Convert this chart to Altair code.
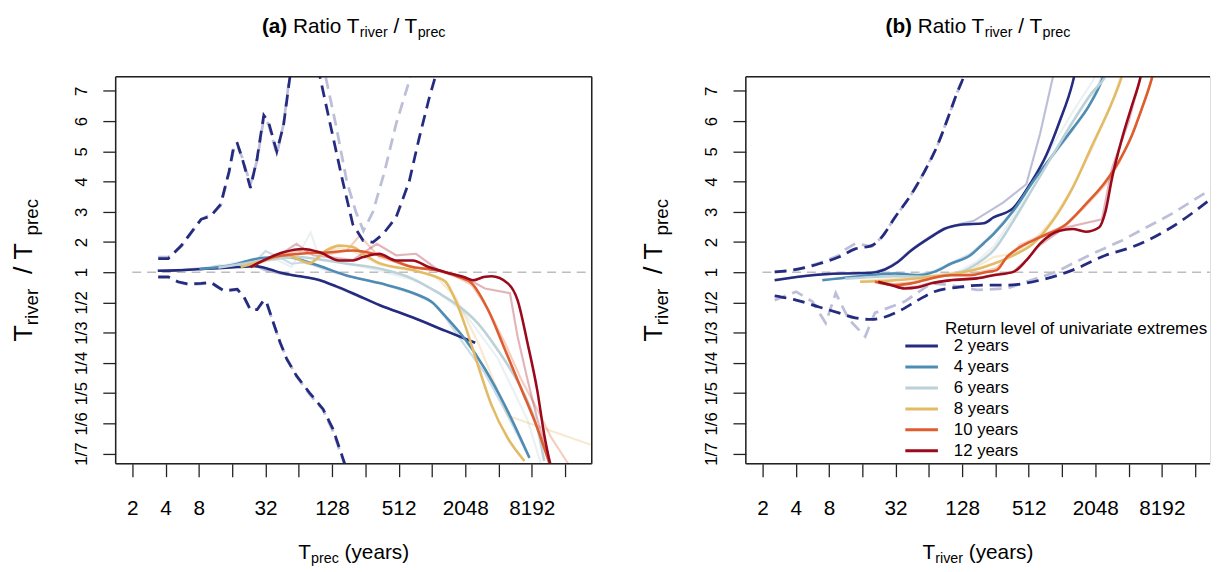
import altair as alt
import pandas as pd

FONT = "Liberation Sans"
SERIES = ["2 years", "4 years", "6 years", "8 years", "10 years", "12 years"]
COLORS = ["#252C80", "#4E8CB3", "#BCD2D8", "#E3BB66", "#DE5C2E", "#9B0A1C"]
NAVY = "#252C80"

X_TICKS = [2, 4, 8, 16, 32, 64, 128, 256, 512, 1024, 2048, 4096, 8192, 16384]
Y_TICKS = [-6, -5, -4, -3, -2, -1, 0, 1, 2, 3, 4, 5, 6]
REF_T = [2, 30000]
REF_R = [1, 1]

# ---------------- panel (a): smooth curves (x = T_prec, y = ratio) ----------------
a2_T = [3.4, 5, 7.8, 12, 18, 25, 30, 36, 44, 66, 99, 140, 197, 342, 690, 1360, 2520]
a2_R = [1.05, 1.06, 1.10, 1.13, 1.17, 1.20, 1.16, 1.08, 0.98, 0.88, 0.79, 0.68, 0.59, 0.48, 0.40, 0.34, 0.30]
a4_T = [8.1, 15.6, 31, 50, 86, 170, 342, 690, 1040, 1360, 2050, 3090, 4670, 7800]
a4_R = [1.10, 1.23, 1.48, 1.50, 1.28, 0.91, 0.735, 0.593, 0.497, 0.406, 0.31, 0.238, 0.185, 0.14]
a6_T = [12, 20, 40, 64, 100, 174, 342, 687, 1180, 1670, 2680, 4030, 5690, 7480, 9220, 10600]
a6_R = [1.15, 1.28, 1.45, 1.50, 1.42, 1.28, 1.12, 0.82, 0.59, 0.49, 0.37, 0.28, 0.226, 0.19, 0.162, 0.138]
a8_T = [19.1, 31, 50, 80, 113, 150, 197, 244, 342, 687, 1105, 1360, 1670, 2048, 2680, 3550, 4970, 7030]
a8_R = [1.17, 1.39, 1.56, 1.30, 1.72, 1.88, 1.83, 1.61, 1.30, 1.07, 0.87, 0.76, 0.52, 0.36, 0.244, 0.185, 0.154, 0.138]
a10_T = [23.4, 37.8, 65.7, 122, 197, 342, 687, 1105, 1770, 2350, 3290, 4670, 6570, 9220, 12200, 15000]
a10_R = [1.17, 1.50, 1.61, 1.66, 1.72, 1.56, 1.17, 1.07, 0.87, 0.73, 0.446, 0.282, 0.206, 0.162, 0.134, 0.12]
a12_T = [23.4, 35.5, 46.6, 70, 99, 149, 197, 244, 342, 485, 687, 955, 1360, 2048, 2400, 3090, 3540, 4970, 6090, 7480, 9220, 10600, 12200, 14000]
a12_R = [1.17, 1.50, 1.66, 1.77, 1.66, 1.39, 1.39, 1.50, 1.61, 1.39, 1.39, 1.17, 1.0, 0.85, 0.79, 0.87, 0.88, 0.73, 0.52, 0.30, 0.202, 0.157, 0.134, 0.12]

# panel (a): raw (faint) curves
ar2_T = [3.4, 5, 7.8, 12, 16, 20, 25, 32, 44, 66, 99, 197, 342, 690, 1360, 2520]
ar2_R = [1.05, 1.07, 1.12, 1.14, 1.22, 1.16, 1.24, 1.06, 0.95, 0.88, 0.80, 0.58, 0.48, 0.40, 0.34, 0.30]
ar4_T = [8.1, 12, 16, 20, 25, 32, 45, 55, 70, 86, 128, 170, 256, 342, 512, 690, 1040, 1360, 2050, 3090, 4670, 7800]
ar4_R = [1.10, 1.22, 1.20, 1.33, 1.30, 1.70, 1.45, 1.28, 1.32, 1.24, 1.02, 0.90, 0.80, 0.74, 0.64, 0.59, 0.50, 0.40, 0.29, 0.23, 0.18, 0.14]
ar6_T = [12, 16, 25, 40, 55, 82, 100, 174, 342, 687, 1180, 2048, 4030, 7480, 10600]
ar6_R = [1.15, 1.30, 1.40, 1.42, 1.17, 2.32, 1.40, 1.30, 1.05, 0.80, 0.60, 0.42, 0.26, 0.17, 0.13]
ar8_T = [19, 31, 50, 80, 113, 150, 197, 342, 687, 1105, 1670, 2680, 4970, 28000]
ar8_R = [1.17, 1.35, 1.50, 1.30, 1.70, 1.80, 1.70, 1.25, 1.05, 0.88, 0.55, 0.30, 0.174, 0.149]
ar10_T = [23.4, 40, 65, 122, 174, 228, 342, 687, 1105, 1770, 2350, 3290, 4670, 6570, 9220, 12200, 18400]
ar10_R = [1.17, 1.55, 1.70, 1.60, 1.72, 2.21, 1.50, 1.15, 1.07, 0.85, 0.70, 0.45, 0.30, 0.22, 0.18, 0.155, 0.134]
ar12_T = [23.4, 35, 46, 61, 86, 120, 197, 325, 485, 735, 1170, 2048, 3090, 5200, 6090, 7480, 9220, 13000]
ar12_R = [1.17, 1.50, 1.65, 1.94, 1.56, 1.50, 1.40, 1.94, 1.56, 1.61, 1.07, 0.85, 0.65, 0.59, 0.32, 0.22, 0.17, 0.13]

# panel (a): dashed bounds
au_T = [3.43, 4.23, 5.55, 8.38, 10.3, 12.6, 15.0, 16.6, 17.8, 19.7, 23.4, 26.9, 30.9, 34.1, 40.5, 46.6, 53.4, 62, 75, 90, 99, 122, 160, 197, 244, 300, 370, 485, 638, 783, 962, 1105, 1300]
au_R = [1.45, 1.45, 1.88, 2.75, 2.86, 3.25, 4.33, 5.2, 5.26, 4.77, 3.79, 4.77, 6.19, 5.97, 4.99, 5.86, 7.5, 9.5, 10.5, 9.0, 7.5, 5.97, 4.0, 2.59, 2.05, 1.99, 2.26, 2.81, 4.0, 5.42, 6.73, 7.5, 8.6]
al_T = [3.43, 4.23, 5.18, 6.37, 8.38, 10.3, 11.8, 13.5, 17.8, 20.4, 23.4, 26.9, 30.9, 32.9, 37.8, 43.5, 49.9, 61, 80.5, 106, 130, 160, 171, 185]
al_R = [0.867, 0.867, 0.76, 0.718, 0.73, 0.748, 0.675, 0.62, 0.64, 0.553, 0.446, 0.446, 0.522, 0.495, 0.373, 0.30, 0.258, 0.226, 0.20, 0.181, 0.162, 0.14, 0.134, 0.125]
afu_T = [3.43, 4.23, 5.55, 8.38, 10.3, 12.6, 15.0, 16.6, 17.8, 19.7, 23.4, 26.9, 30.9, 34.1, 40.5, 46.6, 53.4, 62, 75, 90, 110, 140, 174, 210, 246, 300, 380, 485, 635, 750]
afu_R = [1.5, 1.5, 1.85, 2.75, 2.9, 3.2, 4.3, 5.1, 5.2, 4.8, 3.9, 4.7, 6.1, 5.9, 4.9, 5.9, 7.6, 9.5, 10.5, 9.5, 7.6, 5.8, 4.0, 3.0, 2.37, 3.0, 4.3, 5.9, 7.3, 8.5]
afl_T = [3.43, 4.23, 5.18, 6.37, 8.38, 10.3, 11.8, 13.5, 17.8, 20.4, 23.4, 26.9, 30.9, 32.9, 37.8, 43.5, 49.9, 61, 80.5, 106, 130, 160, 171, 185]
afl_R = [0.85, 0.85, 0.75, 0.71, 0.72, 0.74, 0.67, 0.61, 0.63, 0.55, 0.44, 0.45, 0.51, 0.49, 0.37, 0.30, 0.26, 0.225, 0.198, 0.18, 0.16, 0.139, 0.133, 0.124]

# ---------------- panel (b): smooth curves (x = T_river, y = ratio) ----------------
b2_T = [2.58, 5.66, 11.2, 19.4, 25.6, 33.6, 44.3, 67, 88, 124, 201, 246, 372, 523, 739, 970, 1277, 1323, 1500]
b2_R = [0.79, 0.91, 0.96, 0.98, 1.09, 1.34, 1.72, 2.17, 2.43, 2.57, 2.62, 2.81, 3.13, 3.9, 4.88, 5.97, 7.27, 7.5, 8.5]
b4_T = [6.96, 13.8, 31.5, 51, 71.5, 101, 152, 201, 246, 372, 560, 845, 1277, 1800, 2370, 2700]
b4_R = [0.79, 0.87, 0.96, 0.91, 1.01, 1.28, 1.56, 1.96, 2.26, 3.03, 4.0, 4.88, 5.75, 6.51, 7.38, 8.0]
b6_T = [11.2, 31.5, 67, 115, 174, 246, 372, 560, 845, 1277, 1920, 2540, 2900]
b6_R = [0.82, 0.88, 0.87, 0.96, 1.28, 1.72, 2.70, 3.79, 4.88, 5.97, 6.95, 7.49, 8.0]
b8_T = [15.3, 31.5, 67, 115, 163, 246, 372, 560, 845, 1277, 1920, 2900, 3570, 4000]
b8_R = [0.76, 0.79, 0.87, 0.96, 1.07, 1.28, 1.56, 1.94, 2.70, 3.79, 5.2, 6.62, 7.5, 8.2]
b10_T = [20.8, 31.5, 44.3, 67, 101, 152, 214, 263, 324, 427, 645, 1115, 1680, 2540, 3340, 4390, 5380, 6610, 7500]
b10_R = [0.76, 0.70, 0.73, 0.83, 0.91, 0.91, 1.01, 1.07, 1.50, 1.83, 2.15, 2.59, 3.25, 4.0, 4.66, 5.53, 6.40, 7.38, 8.2]
b12_T = [22.3, 29.4, 38.6, 51, 67, 101, 175, 246, 372, 487, 645, 970, 1277, 1680, 2210, 2540, 2900, 3570, 4390, 5190, 5800]
b12_R = [0.76, 0.70, 0.65, 0.667, 0.73, 0.79, 0.83, 0.91, 1.01, 1.39, 1.94, 2.37, 2.43, 2.34, 2.48, 3.03, 4.11, 5.42, 6.51, 7.38, 8.2]

# panel (b): raw (faint) curves
br2_T = [2.58, 5.66, 11.2, 19.4, 25.6, 33.6, 44.3, 67, 88, 124, 163, 300, 487, 650, 845, 950]
br2_R = [0.80, 0.92, 0.97, 0.99, 1.10, 1.36, 1.75, 2.20, 2.45, 2.60, 2.70, 3.30, 3.91, 5.6, 7.44, 8.3]
br4_T = [6.96, 13.8, 31.5, 51, 71.5, 101, 152, 201, 246, 372, 560, 845, 1277, 1800, 2370]
br4_R = [0.80, 0.88, 0.98, 0.93, 1.03, 1.30, 1.60, 2.0, 2.3, 3.05, 4.0, 4.85, 5.7, 6.5, 7.5]
br6_T = [11.2, 31.5, 67, 115, 174, 246, 372, 560, 845, 1277, 1920, 2400]
br6_R = [0.84, 0.90, 0.88, 1.0, 1.35, 1.85, 2.85, 4.0, 5.2, 6.3, 7.3, 8.0]
br8_T = [15.3, 31.5, 67, 115, 163, 246, 372, 560, 845, 1277, 1920, 2900, 3570]
br8_R = [0.78, 0.82, 0.90, 1.0, 1.12, 1.5, 1.62, 2.0, 2.75, 3.8, 5.1, 6.6, 7.6]
br10_T = [20.8, 31.5, 44.3, 67, 101, 152, 214, 263, 324, 427, 645, 1115, 1680, 2540, 3340, 4390, 5380, 6610, 7500]
br10_R = [0.77, 0.72, 0.75, 0.85, 0.92, 0.95, 1.05, 1.15, 1.45, 1.90, 2.20, 2.55, 3.2, 3.9, 4.6, 5.5, 6.4, 7.4, 8.2]
br12_T = [22.3, 29.4, 38.6, 51, 67, 101, 175, 246, 372, 487, 645, 970, 1115, 2350, 2900, 4096, 5190, 5800]
br12_R = [0.77, 0.71, 0.66, 0.68, 0.74, 0.80, 0.84, 0.92, 1.02, 1.40, 1.90, 2.35, 2.48, 2.75, 4.44, 5.97, 7.38, 8.2]

# panel (b): dashed bounds
bu_T = [2.58, 4.03, 6.5, 9.8, 13.8, 19.4, 23.9, 31.5, 44.3, 58.4, 76.6, 94.6, 115.6, 133, 150]
bu_R = [1.01, 1.09, 1.28, 1.5, 1.77, 1.88, 2.15, 2.81, 3.57, 4.33, 5.2, 6.08, 6.95, 7.5, 8.2]
bl_T = [2.58, 4.03, 6.5, 9.8, 13.8, 19.4, 25.6, 36.3, 51, 71.5, 115.6, 201, 324, 645, 1277, 2540, 4390, 9940, 22700]
bl_R = [0.56, 0.52, 0.465, 0.426, 0.398, 0.39, 0.403, 0.446, 0.52, 0.608, 0.667, 0.70, 0.70, 0.79, 1.07, 1.56, 1.83, 2.48, 3.42]
bfu_T = [2.58, 4.03, 6.5, 9.8, 11.2, 13.8, 19.4, 23.9, 31.5, 44.3, 58.4, 76.6, 94.6, 115.6, 133, 150]
bfu_R = [1.0, 1.08, 1.3, 1.55, 1.75, 1.95, 1.85, 2.15, 2.8, 3.57, 4.33, 5.2, 6.08, 6.95, 7.5, 8.2]
bfl_T = [2.58, 4.03, 5.66, 7.46, 9.2, 12.1, 17, 20.8, 38.6, 67, 101, 175, 324, 905, 1800, 3570, 9940, 22700]
bfl_R = [0.52, 0.608, 0.507, 0.373, 0.59, 0.39, 0.32, 0.426, 0.507, 0.73, 0.70, 0.63, 0.65, 1.01, 1.56, 2.05, 2.92, 3.74]

# ---------------- layout constants ----------------
W_A, W_B, H = 482, 470, 392
XDOM_A = [2 ** 0.5, 2 ** 14.8]
XDOM_B = [2 ** 0.5, 2 ** (0.5 + 470 / 33.7)]
YDOM = [-6.34, 6.47]
ONE = pd.DataFrame({"k": [0]})

REG = {" ": 278, "(": 333, ")": 333, "/": 278, "a": 556, "c": 500, "e": 556, "i": 222,
       "o": 556, "p": 556, "r": 333, "s": 500, "t": 278, "v": 500, "y": 500, "R": 722, "T": 611}
BOLD = {"(": 333, ")": 333, "a": 556, "b": 611}


def tw(s, size, bold=False):
    d = BOLD if bold else REG
    return sum(d.get(c, 556) for c in s) * size / 1000.0


def to_t(r):
    return r - 1 if r >= 1 else 1 - 1.0 / r


def frame(T, R, name="s"):
    return pd.DataFrame({"T": T, "t": [to_t(v) for v in R], "series": name, "i": list(range(len(T)))})


def xenc(dom):
    return alt.X("T:Q", scale=alt.Scale(type="log", base=2, domain=dom, nice=False),
                 axis=alt.Axis(values=X_TICKS,
                               labelExpr="indexof([2,4,8,32,128,512,2048,8192], datum.value) >= 0 ? format(datum.value, 'd') : ''",
                               domain=False, grid=False, tickSize=13, tickWidth=1.3, tickColor="#222",
                               labelFont=FONT, labelFontSize=21, labelColor="black", labelPadding=21,
                               labelFlush=False, labelOverlap=False, title=None))


YENC = alt.Y("t:Q", scale=alt.Scale(domain=YDOM, nice=False, zero=False),
             axis=alt.Axis(values=Y_TICKS,
                           labelExpr="datum.value >= 0 ? format(datum.value + 1, 'd') : '1/' + format(1 - datum.value, 'd')",
                           domain=False, grid=False, tickSize=13, tickWidth=1.3, tickColor="#222",
                           labelFont=FONT, labelFontSize=17, labelColor="black", labelPadding=13,
                           labelAngle=270, labelAlign="center", labelBaseline="bottom",
                           labelOverlap=False, title=None))


def line(data, dom, color, width, opacity=1.0, dash=None, interp="linear"):
    kw = dict(color=color, strokeWidth=width, opacity=opacity, clip=True, interpolate=interp)
    if dash:
        kw["strokeDash"] = dash
    return alt.Chart(data).mark_line(**kw).encode(x=xenc(dom), y=YENC, order="i:Q")


def txt(s, x, y, size, bold=False, angle=0):
    return alt.Chart(ONE).mark_text(text=s, align="left", baseline="alphabetic", font=FONT,
                                    fontSize=size, fontWeight="bold" if bold else "normal",
                                    color="black", angle=angle).encode(x=alt.value(x), y=alt.value(y))


def hrule(x1, x2, y, color="#222", w=1.5, opacity=1.0):
    return alt.Chart(ONE).mark_rule(color=color, strokeWidth=w, opacity=opacity).encode(
        x=alt.value(x1), x2=alt.value(x2), y=alt.value(y))


def vrule(x, y1, y2, color="#222", w=1.5):
    return alt.Chart(ONE).mark_rule(color=color, strokeWidth=w).encode(
        x=alt.value(x), y=alt.value(y1), y2=alt.value(y2))


def hseq(segs, cx, y0):
    total = sum(tw(s, sz, b) for s, sz, b, dy in segs)
    x = cx - total / 2
    out = []
    for s, sz, b, dy in segs:
        lead = len(s) - len(s.lstrip(" "))
        core = s.strip(" ")
        x += lead * REG[" "] * sz / 1000.0
        out.append(txt(core, x, y0 + dy, sz, b))
        x += tw(core, sz, b) + (len(s) - lead - len(core)) * REG[" "] * sz / 1000.0
    return out


def vseq(segs, x0, cy):
    total = sum(tw(s, sz, b) for s, sz, b, dx in segs)
    y = cy + total / 2
    out = []
    for s, sz, b, dx in segs:
        lead = len(s) - len(s.lstrip(" "))
        core = s.strip(" ")
        y -= lead * REG[" "] * sz / 1000.0
        out.append(txt(core, x0 + dx, y, sz, b, angle=270))
        y -= tw(core, sz, b) + (len(s) - lead - len(core)) * REG[" "] * sz / 1000.0
    return out


MAIN, SUB, YM, YS = 21, 14.5, 27, 19


def titles(letter, sub_x, W):
    cx = W / 2
    out = hseq([("(" + letter + ")", MAIN, True, 0), (" Ratio T", MAIN, False, 0), ("river", SUB, False, 4),
                (" / T", MAIN, False, 0), ("prec", SUB, False, 4)], cx, -44.5)
    out += hseq([("T", MAIN, False, 0), (sub_x, SUB, False, 4.5), (" (years)", MAIN, False, 0)], cx, 488)
    out += vseq([("T", YM, False, 0), ("river", YS, False, 6), ("  /  T", YM, False, 0), ("prec", YS, False, 6)],
                -85, H / 2)
    return out


# ---------------- panel (a) ----------------
A_SMOOTH = [(a2_T, a2_R), (a4_T, a4_R), (a6_T, a6_R), (a8_T, a8_R), (a10_T, a10_R), (a12_T, a12_R)]
A_RAW = [(ar2_T, ar2_R), (ar4_T, ar4_R), (ar6_T, ar6_R), (ar8_T, ar8_R), (ar10_T, ar10_R), (ar12_T, ar12_R)]

la = [hrule(-108, 488, -65.5, color="white", w=1, opacity=0)]
for k, (T, R) in enumerate(A_RAW):
    la.append(line(frame(T, R), XDOM_A, COLORS[k], 2.2, opacity=0.3))
la.append(line(frame(afu_T, afu_R), XDOM_A, NAVY, 2.8, opacity=0.3, dash=[12, 7]))
la.append(line(frame(afl_T, afl_R), XDOM_A, NAVY, 2.8, opacity=0.3, dash=[12, 7]))
la.append(line(frame(REF_T, REF_R), XDOM_A, "#BDBDBD", 1.6, dash=[9, 6]))
for k, (T, R) in enumerate(A_SMOOTH):
    la.append(line(frame(T, R), XDOM_A, COLORS[k], 2.6, interp="monotone"))
la.append(line(frame(au_T, au_R), XDOM_A, NAVY, 2.8, dash=[12, 7]))
la.append(line(frame(al_T, al_R), XDOM_A, NAVY, 2.8, dash=[12, 7]))
la += [hrule(0, W_A, 0), hrule(0, W_A, H), vrule(0, 0, H), vrule(W_A, 0, H)]
la += titles("a", "prec", W_A)
panel_a = alt.layer(*la).properties(width=W_A, height=H)

# ---------------- panel (b) ----------------
B_RAW = [(br2_T, br2_R), (br4_T, br4_R), (br6_T, br6_R), (br8_T, br8_R), (br10_T, br10_R), (br12_T, br12_R)]
B_SMOOTH = [(b2_T, b2_R), (b4_T, b4_R), (b6_T, b6_R), (b8_T, b8_R), (b10_T, b10_R), (b12_T, b12_R)]

lb = [hrule(-144, W_B, -65.5, color="white", w=1, opacity=0)]
for k, (T, R) in enumerate(B_RAW):
    lb.append(line(frame(T, R), XDOM_B, COLORS[k], 2.2, opacity=0.3))
lb.append(line(frame(bfu_T, bfu_R), XDOM_B, NAVY, 2.8, opacity=0.3, dash=[12, 7]))
lb.append(line(frame(bfl_T, bfl_R), XDOM_B, NAVY, 2.8, opacity=0.3, dash=[12, 7]))
lb.append(line(frame(REF_T, REF_R), XDOM_B, "#BDBDBD", 1.6, dash=[9, 6]))

b_smooth = pd.concat([frame(T, R, SERIES[k]) for k, (T, R) in enumerate(B_SMOOTH)], ignore_index=True)
lb.append(alt.Chart(b_smooth).mark_line(strokeWidth=2.6, clip=True, interpolate="monotone").encode(
    x=xenc(XDOM_B), y=YENC, order="i:Q",
    color=alt.Color("series:N", sort=SERIES, scale=alt.Scale(domain=SERIES, range=COLORS),
                    legend=alt.Legend(orient="none", legendX=191.6, legendY=264.3, title=None,
                                      symbolType="M-38.6,0H-5.6", symbolSize=4, symbolStrokeWidth=3,
                                      labelFont=FONT, labelFontSize=17, labelColor="black",
                                      labelOffset=2, rowPadding=3.2, padding=0, labelLimit=300))))
lb.append(line(frame(bu_T, bu_R), XDOM_B, NAVY, 2.8, dash=[12, 7], interp="monotone"))
lb.append(line(frame(bl_T, bl_R), XDOM_B, NAVY, 2.8, dash=[12, 7], interp="monotone"))
lb += [hrule(0, W_B, 0), hrule(0, W_B, H), vrule(0, 0, H)]
lb.append(txt("Return level of univariate extremes", 201.6, 260.5, 17.2))
lb += titles("b", "river", W_B)
panel_b = alt.layer(*lb).properties(width=W_B, height=H)

chart = (alt.hconcat(panel_a, panel_b, spacing=4)
         .resolve_scale(x="independent", y="independent", color="independent")
         .resolve_legend(color="independent")
         .properties(padding=0, background="white")
         .configure_view(stroke="transparent")
         .configure(font=FONT))

chart.save("out.html", embed_options={"renderer": "svg", "actions": False})
